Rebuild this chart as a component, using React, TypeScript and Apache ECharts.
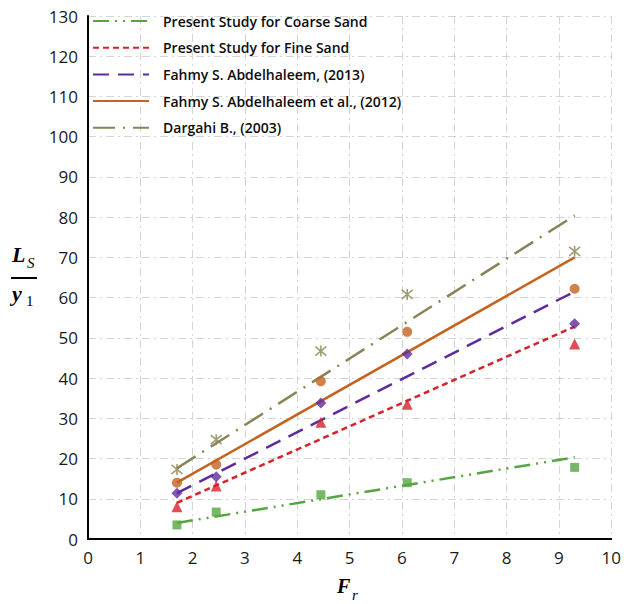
import React, { useEffect, useRef } from "react";
import * as echarts from "echarts";

// Froude number values where measurements were taken
const frValues = [1.7, 2.45, 4.45, 6.1, 9.3];

// Measured relative scour lengths Ls / y1
const coarseSandPts = [3.5, 6.7, 11.0, 14.0, 17.8];
const fineSandPts = [8.0, 13.2, 29.0, 33.5, 48.5];
const fahmy2013Pts = [11.4, 15.5, 33.8, 46.0, 53.5];
const fahmy2012Pts = [14.0, 18.5, 39.2, 51.5, 62.2];
const dargahiPts = [17.3, 24.7, 46.7, 60.8, 71.5];

// Prediction lines, evaluated at the ends of the Froude range
const lineFr = [1.7, 9.3];
const coarseSandLine = [4.0, 20.3];
const fineSandLine = [9.0, 52.8];
const fahmy2013Line = [11.4, 61.5];
const fahmy2012Line = [14.0, 70.0];
const dargahiLine = [17.6, 80.4];

const seriesNames = [
  "Present Study for Coarse Sand",
  "Present Study for Fine Sand",
  "Fahmy S. Abdelhaleem, (2013)",
  "Fahmy S. Abdelhaleem et al., (2012)",
  "Dargahi B., (2003)",
];

const xTicks = { min: 0, max: 10, step: 1 };
const yTicks = { min: 0, max: 130, step: 10 };

const COLORS = ["#55a63f", "#d8222a", "#5f2a9e", "#c4621f", "#888455"];

const asterisk = "path://M0 0L10 10M10 0L0 10M5 -1L5 11";

const pair = (xs: number[], ys: number[]) => xs.map((x, i) => [x, ys[i]]);

export default function App() {
  const ref = useRef<HTMLDivElement>(null);

  useEffect(() => {
    if (!ref.current) return;
    document.body.style.margin = "0";
    const chart = echarts.init(ref.current, null, { renderer: "svg" });

    const lineSets = [coarseSandLine, fineSandLine, fahmy2013Line, fahmy2012Line, dargahiLine];
    const dashes: any[] = [
      [16, 6, 2, 6, 2, 6],
      [6, 4],
      [16, 9],
      "solid",
      [22, 8, 2, 8],
    ];
    const pointSets = [coarseSandPts, fineSandPts, fahmy2013Pts, fahmy2012Pts, dargahiPts];
    const symbols = ["rect", "triangle", "diamond", "circle", asterisk];
    const sizes = [9, 11, 11, 10, 11];

    const lineSeries = lineSets.map((ys, i) => ({
      name: seriesNames[i],
      type: "line",
      data: pair(lineFr, ys),
      symbol: "none",
      z: 2,
      lineStyle: { color: COLORS[i], width: 2.5, type: dashes[i] },
      itemStyle: { color: COLORS[i], opacity: 0 },
    }));

    const pointSeries = pointSets.map((ys, i) => ({
      name: seriesNames[i] + " (data)",
      type: "scatter",
      data: pair(frValues, ys),
      symbol: symbols[i],
      symbolSize: sizes[i],
      z: 3,
      itemStyle:
        i === 4
          ? { color: "rgba(0,0,0,0)", borderColor: COLORS[i], borderWidth: 1.6 }
          : { color: COLORS[i] },
    }));

    const serif = "'Liberation Serif', 'DejaVu Serif', serif";
    const tickFont = {
      margin: 10,
      fontFamily: "'Open Sans', sans-serif",
      fontSize: 17,
      color: "#1a1a1a",
    };
    const gridLine = {
      show: true,
      lineStyle: { color: "#d4d4d4", width: 1, type: [8, 4, 2, 4] },
    };

    chart.setOption({
      animation: false,
      grid: { left: 88, right: 12, top: 16, bottom: 65 },
      legend: {
        data: seriesNames,
        orient: "vertical",
        left: 92,
        top: 13,
        padding: 0,
        itemWidth: 56,
        itemHeight: 16,
        itemGap: 10.7,
        selectedMode: false,
        itemStyle: { opacity: 0 },
        textStyle: {
          fontFamily: "'Open Sans', sans-serif",
          fontSize: 14,
          fontWeight: 600,
          lineHeight: 16,
          color: "#0d0d0d",
          padding: [0, 0, 0, 9],
        },
      },
      xAxis: {
        type: "value",
        min: xTicks.min,
        max: xTicks.max,
        interval: xTicks.step,
        axisLine: { show: true, onZero: false, lineStyle: { color: "#000", width: 2 } },
        axisTick: { show: false },
        axisLabel: tickFont,
        splitLine: gridLine,
      },
      yAxis: {
        type: "value",
        min: yTicks.min,
        max: yTicks.max,
        interval: yTicks.step,
        axisLine: { show: true, onZero: false, lineStyle: { color: "#000", width: 2 } },
        axisTick: { show: false },
        axisLabel: tickFont,
        splitLine: gridLine,
      },
      graphic: [
        // y-axis title: Ls / y1
        {
          type: "text",
          left: 12,
          top: 243,
          style: { text: "L", font: `italic bold 22px ${serif}`, fill: "#000" },
        },
        {
          type: "text",
          left: 27,
          top: 255,
          style: { text: "S", font: `italic 15px ${serif}`, fill: "#000" },
        },
        {
          type: "line",
          shape: { x1: 11, y1: 278, x2: 37, y2: 278 },
          style: { stroke: "#000", lineWidth: 2 },
        },
        {
          type: "text",
          left: 12,
          top: 282,
          style: { text: "y", font: `italic bold 22px ${serif}`, fill: "#000" },
        },
        {
          type: "text",
          left: 26,
          top: 293,
          style: { text: "1", font: `15px ${serif}`, fill: "#000" },
        },
        // x-axis title: Fr
        {
          type: "text",
          left: 337,
          top: 576,
          style: { text: "F", font: `italic bold 20px ${serif}`, fill: "#000" },
        },
        {
          type: "text",
          left: 352,
          top: 587,
          style: { text: "r", font: `italic 15px ${serif}`, fill: "#000" },
        },
      ],
      series: [...lineSeries, ...pointSeries],
    });

    return () => chart.dispose();
  }, []);

  return <div ref={ref} style={{ width: 624, height: 604 }} />;
}
